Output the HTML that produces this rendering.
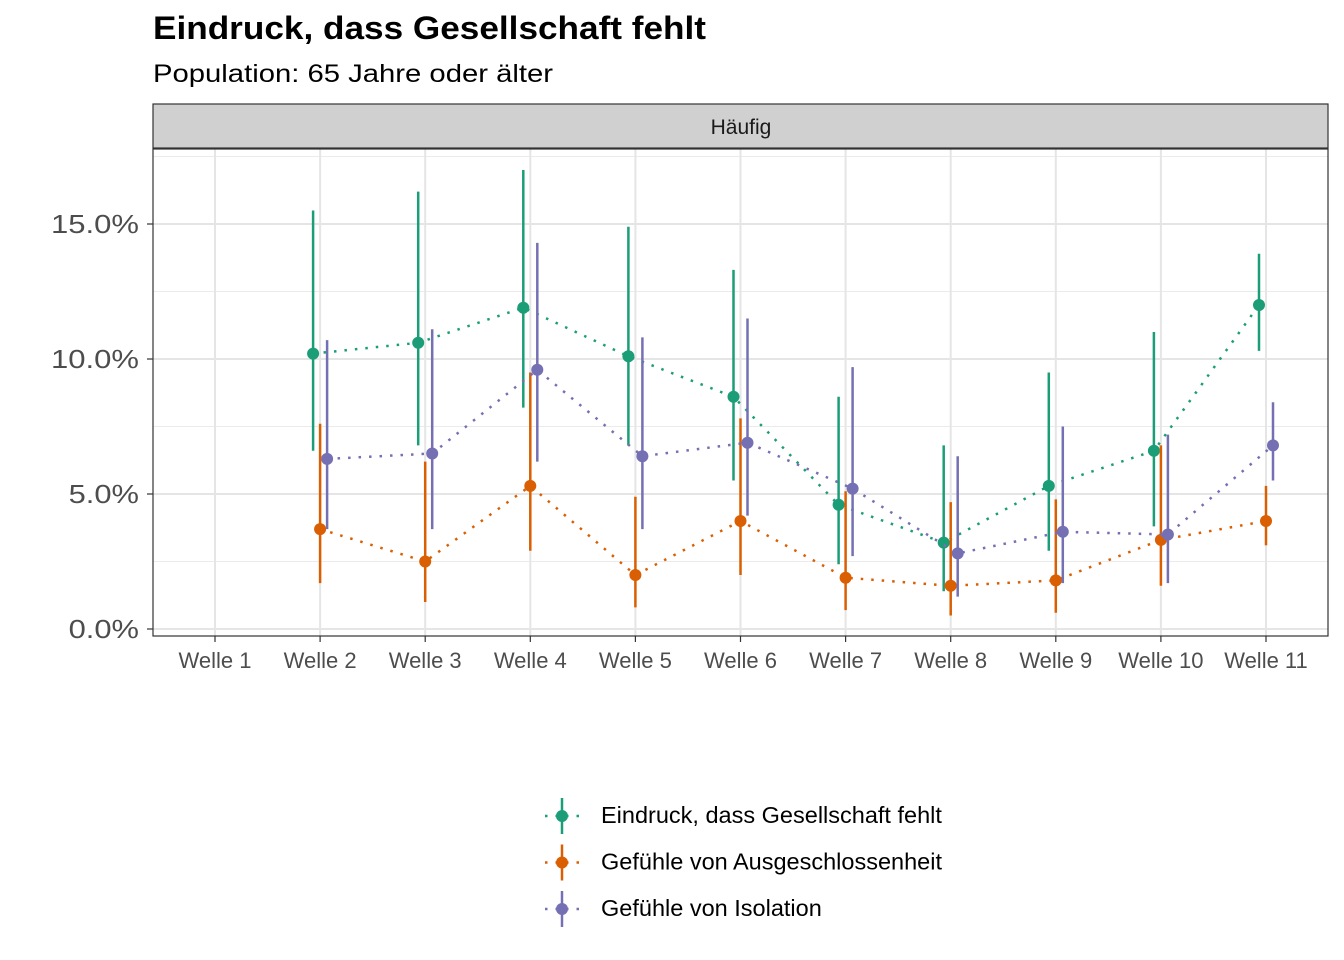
<!DOCTYPE html>
<html><head><meta charset="utf-8"><style>
body{margin:0;background:#fff;}
svg{display:block;font-family:"Liberation Sans",sans-serif;}
</style></head><body>
<svg id="chart" width="1344" height="960">
<text x="153" y="39" font-size="32" font-weight="bold" fill="#000" textLength="553" lengthAdjust="spacingAndGlyphs">Eindruck, dass Gesellschaft fehlt</text>
<text x="153" y="82" font-size="25" fill="#000" textLength="400" lengthAdjust="spacingAndGlyphs">Population: 65 Jahre oder älter</text>
<rect x="153" y="104" width="1175" height="44" fill="#d0d0d0" stroke="#333" stroke-width="1.2"/>
<text x="741" y="134" font-size="21" text-anchor="middle" fill="#1a1a1a">Häufig</text>
<g id="grid"></g>
<g id="marks"></g>
<rect x="153" y="149" width="1175" height="487" fill="none" stroke="#333" stroke-width="1.2"/>
<g id="axes"></g>
<g id="legend"></g>
</svg>
<script>
const categories=["Welle 1","Welle 2","Welle 3","Welle 4","Welle 5","Welle 6","Welle 7","Welle 8","Welle 9","Welle 10","Welle 11"];
const seriesNames=["Eindruck, dass Gesellschaft fehlt","Gefühle von Ausgeschlossenheit","Gefühle von Isolation"];
const colors=["#1b9e77","#d95f02","#7570b3"];
const greenVal=[null,10.2,10.6,11.9,10.1,8.6,4.6,3.2,5.3,6.6,12.0];
const greenLo=[null,6.6,6.8,8.2,6.8,5.5,2.4,1.4,2.9,3.8,10.3];
const greenHi=[null,15.5,16.2,17.0,14.9,13.3,8.6,6.8,9.5,11.0,13.9];
const orangeVal=[null,3.7,2.5,5.3,2.0,4.0,1.9,1.6,1.8,3.3,4.0];
const orangeLo=[null,1.7,1.0,2.9,0.8,2.0,0.7,0.5,0.6,1.6,3.1];
const orangeHi=[null,7.6,6.2,9.5,4.9,7.8,5.1,4.7,4.8,6.8,5.3];
const purpleVal=[null,6.3,6.5,9.6,6.4,6.9,5.2,2.8,3.6,3.5,6.8];
const purpleLo=[null,3.7,3.7,6.2,3.7,4.2,2.7,1.2,1.7,1.7,5.5];
const purpleHi=[null,10.7,11.1,14.3,10.8,11.5,9.7,6.4,7.5,7.2,8.4];
const yTicks=[0,5,10,15];
const yTickLabels=["0.0%","5.0%","10.0%","15.0%"];
const yMinor=[2.5,7.5,12.5,17.5];

const NS="http://www.w3.org/2000/svg";
const x=i=>215+i*105.1;
const y=v=>629-27*v;
function mk(tag,attrs,parent){const e=document.createElementNS(NS,tag);for(const k in attrs)e.setAttribute(k,attrs[k]);parent.appendChild(e);return e;}
const grid=document.getElementById('grid'),marks=document.getElementById('marks'),axes=document.getElementById('axes'),legend=document.getElementById('legend');
yMinor.forEach(v=>{const l=mk('line',{x1:153,x2:1328,y1:y(v),y2:y(v),stroke:'#ebebeb','stroke-width':1},grid);

});
yTicks.forEach((v,i)=>{const l=mk('line',{x1:153,x2:1328,y1:y(v),y2:y(v),stroke:'#e5e5e5','stroke-width':2},grid);


const t=mk('line',{x1:147,x2:153,y1:y(v),y2:y(v),stroke:'#333','stroke-width':1.2},axes);


const tx=mk('text',{x:139,y:y(v)+9,'font-size':26,'text-anchor':'end',fill:'#4d4d4d'},axes);tx.textContent=yTickLabels[i];
tx.setAttribute('textLength',yTickLabels[i].length*17.6);
tx.setAttribute('lengthAdjust','spacingAndGlyphs');

});
categories.forEach((c,i)=>{const l=mk('line',{x1:x(i),x2:x(i),y1:149,y2:636,stroke:'#e5e5e5','stroke-width':2},grid);


const t=mk('line',{x1:x(i),x2:x(i),y1:636,y2:642,stroke:'#333','stroke-width':1.2},axes);


const tx=mk('text',{x:x(i),y:668,'font-size':22,'text-anchor':'middle',fill:'#4d4d4d'},axes);tx.textContent=c;

});
const series=[[greenVal,greenLo,greenHi,-7],[orangeVal,orangeLo,orangeHi,0],[purpleVal,purpleLo,purpleHi,7]];
series.forEach((s,k)=>{const [v,lo,hi,off]=s;const pts=[];
v.forEach((val,i)=>{if(val!==null)pts.push((x(i)+off)+','+y(val));});
const pl=mk('polyline',{points:pts.join(' '),fill:'none',stroke:colors[k],'stroke-width':2.5,'stroke-dasharray':'2.5 8'},marks);


v.forEach((val,i)=>{if(val===null)return;
const e=mk('line',{x1:x(i)+off,x2:x(i)+off,y1:y(lo[i]),y2:y(hi[i]),stroke:colors[k],'stroke-width':2.5},marks);


const c=mk('circle',{cx:x(i)+off,cy:y(val),r:6,fill:colors[k]},marks);

});});
seriesNames.forEach((n,k)=>{const yy=816+k*46.5;
const g=mk('g',{},legend);


mk('line',{x1:545,x2:580,y1:yy,y2:yy,stroke:colors[k],'stroke-width':2.5,'stroke-dasharray':'2.5 8'},g);
mk('line',{x1:562,x2:562,y1:yy-18,y2:yy+18,stroke:colors[k],'stroke-width':2.5},g);
mk('circle',{cx:562,cy:yy,r:6,fill:colors[k]},g);
const t=mk('text',{x:601,y:yy+7,'font-size':23.5,fill:'#000'},g);t.textContent=n;});
</script>
</body></html>
